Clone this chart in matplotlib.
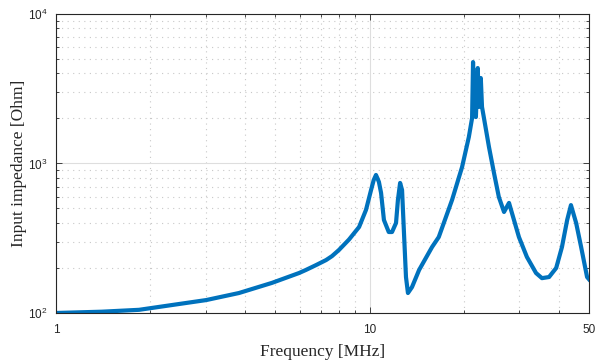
import numpy as np
import matplotlib
matplotlib.use("Agg")
import matplotlib.pyplot as plt
from matplotlib.ticker import FixedLocator, NullFormatter, FixedFormatter, LogLocator

plt.rcParams['font.family'] = 'Liberation Sans'
plt.rcParams['mathtext.fontset'] = 'custom'
plt.rcParams['mathtext.rm'] = 'Liberation Sans'
plt.rcParams['mathtext.default'] = 'regular'

# frequency [MHz] and input impedance [Ohm]
freq = [1.0, 1.4, 1.84, 2.34, 3.01, 3.83, 4.88, 5.95, 6.26, 6.74, 7.26, 7.58,
        7.98, 8.59, 9.25, 9.73, 10.1, 10.3, 10.47, 10.6, 10.7, 10.87, 11.1,
        11.5, 11.78, 12.13, 12.3, 12.5, 12.68, 12.86, 13.05, 13.24, 13.64,
        14.37, 15.8, 16.6, 18.3, 19.7, 20.7, 21.2, 21.35, 21.5, 21.8, 22.1,
        22.3, 22.6, 22.8, 23.1, 24.0, 24.9, 25.8, 26.8, 27.8, 28.4, 29.9,
        31.7, 33.9, 35.4, 37.3, 39.3, 41.0, 42.6, 43.8, 45.5, 47.2, 49.3, 50.0]
imped = [100, 102, 105, 113, 122, 136, 159, 185, 194, 209, 226, 240,
         264, 310, 376, 489, 665, 776, 838, 790, 752, 635, 419,
         348, 348, 400, 570, 741, 665, 343, 174, 136, 149,
         194, 276, 322, 570, 948, 1503, 2014, 4770, 2100, 2045, 4350,
         2390, 3730, 2390, 2045, 1288, 863, 597, 474, 545, 467, 322,
         237, 185, 171, 174, 200, 276, 419, 527, 400, 276, 174, 168]

x_ticks = [1, 10, 50]
x_ticklabels = ['1', '10', '50']

fig = plt.figure(figsize=(5.95, 3.62), dpi=100)
ax = fig.add_axes([0.0941, 0.1354, 0.8958, 0.8259])

ax.plot(freq, imped, color='#0072BD', linewidth=3.0, solid_joinstyle='round')

ax.set_xscale('log')
ax.set_yscale('log')
ax.set_xlim(1, 50)
ax.set_ylim(100, 10000)

ax.xaxis.set_major_locator(FixedLocator(x_ticks))
ax.xaxis.set_major_formatter(FixedFormatter(x_ticklabels))
ax.xaxis.set_minor_locator(FixedLocator([2, 3, 4, 5, 6, 7, 8, 9, 20, 30, 40]))
ax.xaxis.set_minor_formatter(NullFormatter())
ax.yaxis.set_major_locator(LogLocator(base=10, numticks=5))
ax.yaxis.set_minor_locator(LogLocator(base=10, subs=np.arange(2, 10), numticks=10))
ax.yaxis.set_minor_formatter(NullFormatter())

ax.grid(which='major', color='#dedede', linestyle='-', linewidth=0.8)
ax.grid(which='minor', color='#c8c8c8', linestyle=(0, (1, 4)), linewidth=0.8)
ax.set_axisbelow(True)

ax.tick_params(which='both', direction='in', top=True, right=True,
               labelsize=8.5, color='#262626', labelcolor='#262626', width=0.6)
ax.tick_params(which='major', length=4)
ax.tick_params(axis='x', which='major', pad=8)
ax.tick_params(axis='y', which='major', pad=6)
ax.tick_params(which='minor', length=2.5)
for s in ax.spines.values():
    s.set_color('#262626')
    s.set_linewidth(0.8)

ax.set_xlabel('Frequency [MHz]', fontfamily='Liberation Serif', fontsize=12.5,
              color='#262626', labelpad=6)
ax.set_ylabel('Input impedance [Ohm]', fontfamily='Liberation Serif', fontsize=12.5,
              color='#262626', labelpad=1)

fig.savefig('out.png', dpi=100)
